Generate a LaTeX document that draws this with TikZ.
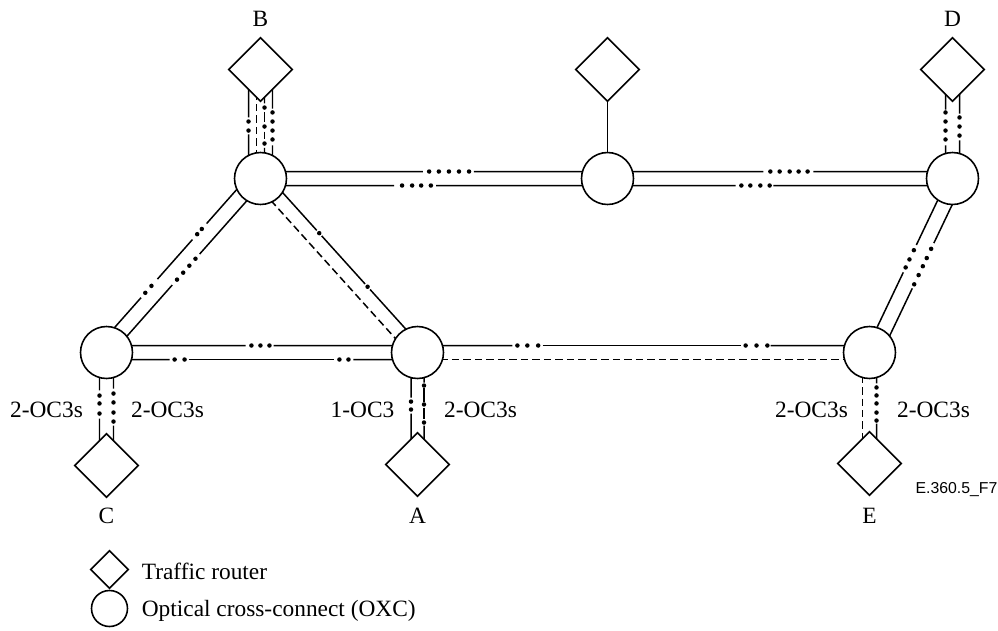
\documentclass[tikz,border=0pt]{standalone}
\usepackage{fontspec}
\setmainfont{Liberation Serif}
\setsansfont{Liberation Sans}
\usetikzlibrary{positioning, shapes.geometric, calc, backgrounds}

% one strand of a link: #2 -> #3, shifted sideways by #4, drawn in the
% solid pieces #5 (fractions a/b); \knots puts the dots on the last strand
\newcommand\strand[5][]{%
  \coordinate (s0) at ($(#2)!#4!90:(#3)$);
  \coordinate (s1) at ($(#3)!#4!-90:(#2)$);
  \foreach \a/\b in {#5} \draw[link,#1] ($(s0)!\a!(s1)$) -- ($(s0)!\b!(s1)$);
}
\newcommand\knots[1]{%
  \foreach \t in {#1} \fill ($(s0)!\t!(s1)$) circle (0.045cm);
}

\begin{document}
\begin{tikzpicture}[
  x=0.02cm, y=-0.02cm,
  oxc/.style={circle, draw, line width=0.9pt, fill=white,
              minimum size=1.04cm, inner sep=0pt},
  router/.style={diamond, draw, line width=0.9pt, fill=white,
                 minimum size=1.28cm, inner sep=0pt},
  link/.style={line width=0.85pt},
  broken/.style={dash pattern=on 0.15cm off 0.08cm},
  lbl/.style={font=\fontsize{13.3}{16}\selectfont, inner sep=0pt},
]
% half-pixel offset keeps the straight links on the pixel rows
\useasboundingbox (-0.5,-0.5) rectangle (997.5,629.5);

% =========================================================================
% Nodes: optical cross-connects and traffic routers (pixel grid, y down)
% =========================================================================
\node[oxc] (oxcB) at (260,178) {};
\node[oxc] (oxcM) at (607,178) {};
\node[oxc] (oxcD) at (952,178) {};
\node[oxc] (oxcC) at (106,352) {};
\node[oxc] (oxcA) at (417,352) {};
\node[oxc] (oxcE) at (869,352) {};

\node[router] (rtB) at (260,69) {};
\node[router] (rtM) at (607,69) {};
\node[router] (rtD) at (952,69) {};
\node[router] (rtC) at (106,465) {};
\node[router] (rtA) at (417,464) {};
\node[router] (rtE) at (869,463) {};

\node[lbl] (labB) at (260,18) {B};
\node[lbl] (labD) at (952,18) {D};
\node[lbl] (labC) at (106,515) {C};
\node[lbl] (labA) at (417,515) {A};
\node[lbl] (labE) at (869,515) {E};

% =========================================================================
% Links, behind the nodes
% =========================================================================
\begin{scope}[on background layer]
% ---- top row ------------------------------------------------------------
\strand{oxcB}{oxcM}{0.14cm}{0/0.468, 0.615/1}
\knots{0.486,0.514,0.543,0.572,0.601}
\strand{oxcB}{oxcM}{-0.14cm}{0/0.385, 0.506/1}
\knots{0.408,0.437,0.463,0.491}
\strand{oxcM}{oxcD}{0.14cm}{0/0.452, 0.597/1}
\knots{0.472,0.499,0.528,0.554,0.580}
\strand{oxcM}{oxcD}{-0.14cm}{0/0.371, 0.481/1}
\knots{0.388,0.414,0.443,0.470}

% ---- bottom row ---------------------------------------------------------
\strand{oxcC}{oxcA}{0.14cm}{0/0.447, 0.537/1}
\knots{0.466,0.495,0.524}
\strand{oxcC}{oxcA}{-0.14cm}{0/0.203, 0.264/0.730, 0.794/1}
\knots{0.219,0.251,0.749,0.778}
\strand{oxcA}{oxcE}{0.14cm}{0/0.210, 0.277/0.715, 0.781/1}
\knots{0.221,0.243,0.267,0.726,0.750,0.774}
\strand[broken]{oxcA}{oxcE}{-0.14cm}{0/1}

% ---- diagonals ----------------------------------------------------------
\strand{oxcB}{oxcC}{-0.21cm}{0/0.299, 0.391/0.618, 0.725/1}
\knots{0.330,0.360,0.657,0.697}
\strand{oxcB}{oxcC}{0.09cm}{0/0.417, 0.595/1}
\knots{0.444,0.484,0.524,0.564}
\strand{oxcB}{oxcA}{0.14cm}{0/0.325, 0.357/0.633, 0.665/1}
\knots{0.341,0.649}
\strand[broken]{oxcB}{oxcA}{-0.14cm}{0/1}
\strand{oxcD}{oxcE}{-0.08cm}{0/0.392, 0.549/1}
\knots{0.422,0.475,0.521}
\strand{oxcD}{oxcE}{0.22cm}{0/0.344, 0.604/1}
\knots{0.377,0.430,0.477,0.528,0.581}

% ---- router access ------------------------------------------------------
\strand{rtB}{oxcB}{-0.24cm}{0/0.440, 0.596/1}
\knots{0.477,0.560}
\strand[broken]{rtB}{oxcB}{-0.08cm}{0/1}
\strand{rtB}{oxcB}{0.08cm}{0/0.31, 0.39/0.48, 0.57/0.64, 0.72/1}
\knots{0.349,0.523,0.679}
\strand{rtB}{oxcB}{0.24cm}{0/0.358, 0.697/1}
\knots{0.394,0.477,0.560,0.642}

\draw[link] (rtM) -- (oxcM);

\strand{rtD}{oxcD}{-0.14cm}{0/0.367, 0.697/1}
\knots{0.394,0.477,0.560,0.642}
\strand{rtD}{oxcD}{0.14cm}{0/0.404, 0.651/1}
\knots{0.440,0.523,0.606}

\strand{oxcC}{rtC}{-0.14cm}{0/0.336, 0.584/1}
\knots{0.381,0.451,0.540}
\strand{oxcC}{rtC}{0.14cm}{0/0.319, 0.646/1}
\knots{0.363,0.442,0.531,0.611}

\strand{oxcA}{rtA}{-0.13cm}{0/0.402, 0.545/1}
\knots{0.438,0.509}
\strand{oxcA}{rtA}{0.13cm}{0/0.268, 0.321/0.438, 0.491/0.598, 0.652/1}
\knots{0.295,0.464,0.625}

\strand[broken]{oxcE}{rtE}{-0.14cm}{0/1}
\strand{oxcE}{rtE}{0.14cm}{0/0.279, 0.640/1}
\knots{0.315,0.387,0.459,0.541,0.613}
\end{scope}

% =========================================================================
% Capacities, figure tag and key
% =========================================================================
\node[lbl] (capC1) at (46,409) {2-OC3s};
\node[lbl] (capC2) at (167,409) {2-OC3s};
\node[lbl] (capA1) at (362,409) {1-OC3};
\node[lbl] (capA2) at (480,409) {2-OC3s};
\node[lbl] (capE1) at (811,409) {2-OC3s};
\node[lbl] (capE2) at (933,409) {2-OC3s};

\node[font=\sffamily\fontsize{9}{11}\selectfont, inner sep=0pt] (tag)
  at (956,489) {E.360.5\_F7};

\node[router, minimum size=0.76cm] (keyRt) at (109,569) {};
\node[oxc, minimum size=0.72cm] (keyOxc) at (109,608) {};
\node[lbl, anchor=west] (keyRtTxt) at (141,571) {Traffic router};
\node[lbl, anchor=west] (keyOxcTxt) at (141,610) {Optical cross-connect (OXC)};

\end{tikzpicture}
\end{document}
